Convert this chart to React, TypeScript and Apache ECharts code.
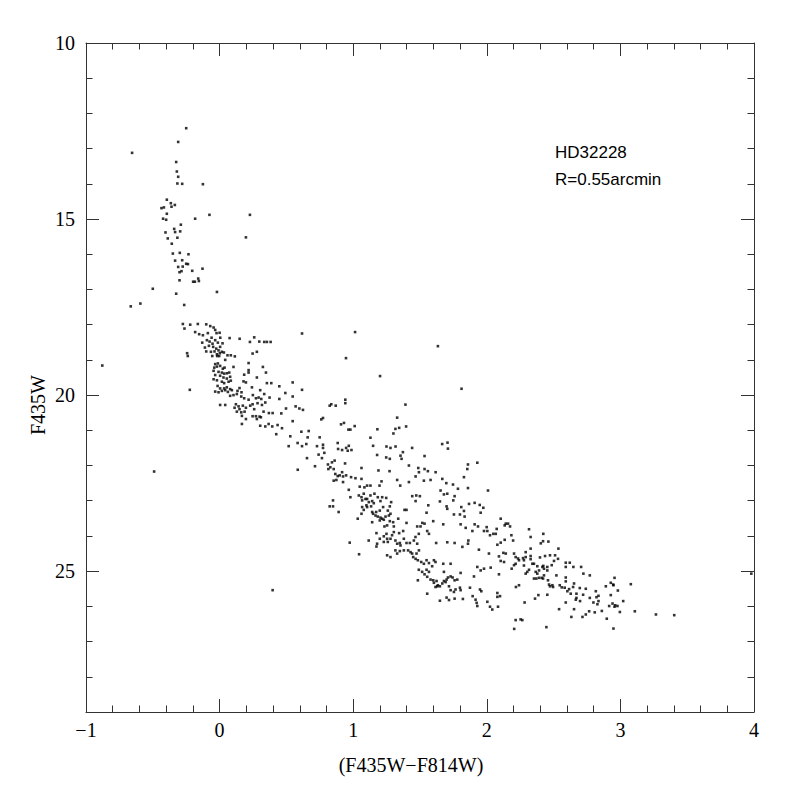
import React, { useEffect, useRef } from "react";
import * as echarts from "echarts";

// Colour index (F435W-F814W) vs magnitude F435W
const brightSequence: [number, number][] = [
  [-0.25, 12.42], [-0.31, 12.81], [-0.655, 13.12], [-0.325, 13.38], [-0.32, 13.65], [-0.31, 13.8], [-0.316, 13.99], [-0.28, 14.0],
  [-0.125, 14.01], [-0.395, 14.45], [-0.365, 14.55], [-0.335, 14.6], [-0.417, 14.67], [-0.435, 14.69], [-0.36, 14.65], [-0.395, 14.85],
  [-0.076, 14.88], [0.227, 14.88], [-0.423, 14.99], [-0.4, 15.02], [-0.183, 14.99], [-0.29, 15.16], [-0.34, 15.28], [-0.295, 15.35],
  [-0.333, 15.37], [-0.405, 15.38], [0.197, 15.52], [-0.316, 15.53], [-0.388, 15.55], [-0.358, 15.7], [-0.35, 15.98], [-0.298, 15.96],
  [-0.233, 16.0], [-0.333, 16.18], [-0.28, 16.17], [-0.25, 16.27], [-0.237, 16.28], [-0.31, 16.36], [-0.276, 16.35], [-0.128, 16.41],
  [-0.3, 16.51], [-0.285, 16.48], [-0.205, 16.47], [-0.16, 16.69], [-0.198, 16.78], [-0.185, 16.78], [-0.155, 16.76], [-0.3, 16.74],
  [-0.5, 16.98], [-0.325, 17.12], [-0.02, 17.07], [-0.593, 17.4], [-0.665, 17.48], [-0.265, 17.44],
];

const turnoffRegion: [number, number][] = [
  [-0.275, 17.98], [-0.22, 18.0], [-0.163, 17.98], [-0.1, 17.99], [-0.263, 18.11], [-0.07, 18.04], [-0.045, 18.08], [-0.033, 18.15],
  [-0.183, 18.21], [-0.153, 18.27], [-0.125, 18.3], [-0.088, 18.24], [-0.023, 18.24], [0.0, 18.23], [-0.06, 18.37], [0.005, 18.37],
  [0.075, 18.38], [0.15, 18.4], [0.259, 18.36], [0.617, 18.25], [0.227, 18.49], [0.297, 18.48], [0.334, 18.49], [0.354, 18.49],
  [0.382, 18.49], [-0.13, 18.51], [-0.095, 18.44], [-0.075, 18.48], [-0.033, 18.44], [-0.053, 18.54], [-0.013, 18.51], [0.022, 18.53],
  [-0.11, 18.65], [-0.08, 18.6], [-0.048, 18.63], [-0.025, 18.68], [-0.008, 18.73], [0.004, 18.63], [0.032, 18.79], [0.059, 18.87],
  [0.084, 18.87], [0.114, 18.9], [-0.1, 18.76], [-0.065, 18.77], [-0.038, 18.76], [-0.02, 18.84], [0.002, 18.81], [0.017, 18.77],
  [-0.055, 18.89], [-0.018, 18.89], [-0.003, 18.89], [-0.243, 18.81], [-0.238, 18.89], [0.247, 18.82], [0.279, 18.77], [-0.878, 19.16],
  [0.042, 19.0], [-0.033, 19.12], [-0.013, 19.1], [-0.04, 19.22], [-0.02, 19.19], [0.004, 19.17], [0.024, 19.25], [0.037, 19.22],
  [0.104, 19.2], [0.217, 19.09], [0.324, 19.2], [0.347, 19.36], [0.217, 19.29], [0.217, 19.36], [-0.045, 19.31], [-0.008, 19.34],
  [0.017, 19.36], [0.034, 19.39], [0.054, 19.38], [0.072, 19.36], [-0.033, 19.43], [0.004, 19.45], [0.029, 19.5], [0.054, 19.53],
  [0.079, 19.48], [0.184, 19.42], [0.279, 19.5], [-0.045, 19.55], [-0.02, 19.58], [0.017, 19.62], [0.034, 19.66], [0.067, 19.62],
  [0.084, 19.59], [0.179, 19.61], [0.197, 19.64], [0.354, 19.66], [0.387, 19.66], [0.547, 19.64], [0.447, 19.75], [-0.015, 19.74],
  [0.004, 19.81], [0.034, 19.81], [0.054, 19.78], [0.079, 19.83], [0.017, 19.88], [0.042, 19.86], [0.062, 19.91], [0.092, 19.86],
  [0.149, 19.8], [0.134, 19.88], [0.164, 19.92], [0.242, 19.78], [0.304, 19.86], [0.334, 19.97], [-0.223, 19.85], [-0.033, 19.9],
  [-0.008, 19.92], [0.104, 20.0], [0.129, 19.97], [0.079, 20.02], [0.162, 20.04], [0.184, 20.09], [0.217, 20.13], [0.249, 20.0],
  [0.272, 20.09], [0.292, 20.07], [0.312, 20.11], [0.374, 20.07], [0.447, 20.11], [0.492, 19.94], [0.547, 20.04], [0.617, 19.85],
  [0.004, 20.28], [0.042, 20.28], [0.122, 20.26], [0.112, 20.36], [0.142, 20.32], [0.149, 20.4], [0.174, 20.3], [0.197, 20.36],
  [0.229, 20.3], [0.259, 20.4], [0.247, 20.26], [0.284, 20.23], [0.317, 20.28], [0.342, 20.21], [0.129, 20.47], [0.162, 20.49],
  [0.187, 20.47], [0.167, 20.59], [0.247, 20.6], [0.272, 20.6], [0.299, 20.61], [0.329, 20.47], [0.369, 20.51], [0.397, 20.51],
  [0.462, 20.52], [0.497, 20.38], [0.569, 20.32], [0.597, 20.38], [0.624, 20.42], [0.197, 20.68], [0.279, 20.68], [0.309, 20.63],
  [0.167, 20.82], [0.304, 20.87], [0.342, 20.89], [0.367, 20.82], [0.394, 20.89], [0.434, 20.85], [0.467, 20.94], [0.547, 20.74],
  [0.424, 21.11], [0.529, 21.17], [0.612, 21.04], [0.667, 21.02], [0.659, 21.2], [0.749, 21.2], [0.517, 21.45], [0.584, 21.36],
  [0.617, 21.45], [0.649, 21.39], [0.729, 21.45],
];

const scatteredRed: [number, number][] = [
  [1.014, 18.21], [1.634, 18.61], [0.946, 18.95], [1.201, 19.46], [1.811, 19.82], [0.941, 20.13], [0.941, 20.23], [0.824, 20.3],
  [0.836, 20.26], [0.869, 20.3], [1.391, 20.27], [1.329, 20.64], [0.761, 20.69], [0.774, 20.65], [0.909, 20.83], [0.931, 20.79],
  [1.011, 20.88], [0.964, 20.98], [0.979, 20.98], [1.181, 20.97], [1.316, 20.96], [1.344, 20.93], [1.396, 20.89], [1.301, 21.09],
  [1.129, 21.21], [0.884, 21.36], [1.706, 21.35],
];

const lowerSequence: [number, number][] = [
  [0.774, 21.41], [0.774, 21.5], [0.887, 21.53], [0.917, 21.56], [0.947, 21.5], [0.959, 21.58], [0.987, 21.56], [0.967, 21.44],
  [1.149, 21.44], [1.249, 21.46], [1.279, 21.5], [1.317, 21.46], [1.441, 21.5], [1.666, 21.39], [1.709, 21.52], [0.654, 21.79],
  [0.741, 21.69], [0.766, 21.79], [0.784, 21.64], [0.714, 22.02], [0.811, 21.97], [0.829, 22.05], [0.841, 21.91], [0.861, 21.86],
  [0.854, 22.1], [0.814, 22.1], [0.866, 22.24], [0.884, 22.3], [0.874, 22.41], [0.854, 22.43], [0.917, 22.19], [0.899, 22.28],
  [0.924, 22.31], [0.947, 22.28], [0.924, 22.47], [0.984, 22.33], [1.017, 22.36], [1.062, 22.38], [1.062, 22.07], [0.939, 21.94],
  [1.179, 21.7], [1.274, 21.81], [1.247, 21.77], [1.354, 21.72], [1.362, 21.81], [1.372, 21.62], [1.417, 22.0], [1.534, 21.73],
  [1.487, 22.07], [1.492, 22.19], [1.534, 22.1], [1.559, 22.16], [1.617, 22.19], [1.467, 22.31], [1.529, 22.43], [1.579, 22.41],
  [1.667, 22.38], [1.697, 22.5], [1.747, 22.54], [1.829, 22.33], [1.854, 22.1], [1.859, 21.97], [1.929, 21.92], [1.189, 22.14],
  [1.272, 22.16], [1.212, 22.45], [1.197, 22.57], [1.329, 22.41], [1.352, 22.57], [1.417, 22.47], [1.104, 22.57], [1.129, 22.57],
  [1.084, 22.62], [1.049, 22.6], [0.967, 22.69], [0.979, 22.9], [1.129, 22.85], [1.159, 22.8], [1.079, 22.8], [1.062, 22.9],
  [1.042, 22.85], [1.092, 22.95], [1.067, 22.99], [1.104, 22.95], [1.117, 23.04], [1.142, 23.01], [1.154, 23.07], [1.134, 23.16],
  [1.099, 23.13], [1.067, 23.18], [1.079, 23.26], [1.104, 23.18], [1.142, 23.32], [1.149, 23.37], [1.167, 23.42], [1.184, 23.45],
  [1.204, 23.48], [1.217, 23.51], [1.199, 23.56], [1.229, 23.54], [1.242, 23.45], [1.267, 23.42], [1.279, 23.37], [1.259, 23.28],
  [1.274, 23.16], [1.284, 23.04], [1.217, 22.9], [1.247, 22.92], [1.184, 22.9], [1.204, 23.01], [1.224, 23.18], [1.199, 23.28],
  [1.172, 23.32], [1.142, 23.61], [0.849, 22.99], [0.824, 23.16], [0.849, 23.16], [0.891, 23.32], [1.062, 23.37], [1.034, 23.51],
  [1.234, 23.73], [1.254, 23.7], [1.274, 23.58], [1.299, 23.61], [1.304, 23.73], [1.337, 23.51], [1.399, 23.26], [1.384, 23.26],
  [1.399, 23.63], [1.442, 22.87], [1.472, 22.85], [1.499, 22.87], [1.467, 23.01], [1.562, 23.13], [1.549, 23.34], [1.654, 22.71],
  [1.679, 22.82], [1.704, 22.8], [1.649, 23.02], [1.699, 23.16], [1.704, 23.23], [1.749, 22.99], [1.759, 22.87], [1.784, 22.66],
  [1.859, 22.64], [2.009, 22.71], [1.809, 23.18], [1.799, 23.39], [1.829, 23.29], [1.834, 23.45], [1.867, 23.09], [1.909, 23.06],
  [1.947, 23.12], [1.954, 23.34], [1.974, 23.2], [1.754, 23.39], [1.599, 23.58], [1.674, 23.67], [1.479, 23.73], [1.504, 23.73],
  [1.517, 23.63], [1.534, 23.65], [1.554, 23.86], [1.567, 23.94], [1.804, 23.67], [1.842, 23.77], [1.892, 23.86], [1.909, 23.67],
  [1.934, 23.73], [1.979, 23.86], [1.999, 23.75], [2.004, 23.86], [2.024, 23.98], [2.049, 23.94], [2.074, 23.8], [2.067, 23.94],
  [2.104, 23.51], [2.134, 23.7], [2.142, 23.65], [2.159, 23.65], [2.174, 23.73], [2.184, 23.98], [2.197, 24.13], [2.104, 24.19],
  [2.079, 24.25], [2.134, 24.11], [1.862, 24.13], [1.859, 24.22], [1.817, 24.31], [1.759, 24.2], [1.704, 24.18], [1.621, 24.2],
  [1.941, 24.39], [2.016, 24.5], [2.124, 24.48], [2.142, 24.5], [2.204, 24.5], [2.216, 24.6], [2.234, 24.64], [2.241, 24.69],
  [2.216, 24.79], [2.204, 24.83], [2.186, 24.93], [2.091, 24.58], [2.104, 24.71], [2.129, 24.74], [2.029, 24.9], [1.979, 24.93],
  [1.954, 24.98], [1.929, 24.88], [2.091, 25.09], [1.904, 25.15], [2.218, 25.45], [2.241, 25.4], [1.174, 23.92], [1.199, 24.08],
  [1.229, 24.17], [1.259, 24.17], [1.279, 24.08], [1.316, 24.13], [1.329, 24.22], [1.349, 24.2], [1.354, 24.27], [1.379, 24.08],
  [1.399, 24.2], [1.424, 24.2], [1.454, 24.13], [1.491, 23.94], [1.466, 24.03], [1.479, 24.22], [1.374, 23.86], [1.344, 23.92],
  [1.304, 23.89], [1.291, 23.98], [1.249, 23.94], [1.229, 24.01], [1.254, 24.08], [1.116, 24.13], [0.974, 24.19], [1.179, 24.22],
  [1.174, 24.3], [1.044, 24.52], [1.316, 24.41], [1.329, 24.5], [1.349, 24.43], [1.379, 24.41], [1.411, 24.41], [1.429, 24.46],
  [1.441, 24.5], [1.474, 24.5], [1.492, 24.41], [1.449, 24.6], [1.467, 24.65], [1.484, 24.69], [1.254, 24.55], [1.279, 24.6],
  [1.509, 24.74], [1.529, 24.79], [1.549, 24.69], [1.567, 24.77], [1.549, 24.96], [1.567, 25.02], [1.591, 24.86], [1.604, 24.69],
  [1.616, 24.74], [1.674, 24.79], [1.729, 24.79], [1.491, 24.96], [1.516, 25.02], [1.534, 25.09], [1.554, 25.16], [1.579, 25.24],
  [1.599, 25.26], [1.604, 25.33], [1.624, 25.28], [1.634, 25.4], [1.649, 25.43], [1.667, 25.35], [1.679, 25.28], [1.692, 25.31],
  [1.699, 25.24], [1.709, 25.18], [1.729, 25.15], [1.744, 25.18], [1.759, 25.26], [1.779, 25.24], [1.804, 25.05], [1.679, 25.02],
  [1.484, 25.26], [1.616, 25.45], [1.629, 25.43], [1.717, 25.43], [1.729, 25.54], [1.754, 25.59], [1.766, 25.52], [1.799, 25.47],
  [1.804, 25.54], [1.821, 25.79], [1.874, 25.47], [1.894, 25.71], [1.949, 25.52], [1.959, 25.57], [1.916, 25.81], [1.924, 25.9],
  [1.929, 25.99], [2.004, 25.87], [2.024, 26.01], [2.041, 26.09], [2.084, 26.01], [2.079, 25.62], [2.079, 25.73], [2.099, 25.71],
  [1.554, 25.64], [1.649, 25.84], [1.717, 25.82], [1.759, 25.78], [1.699, 25.75],
];

const faintRedTail: [number, number][] = [
  [2.316, 23.81], [2.328, 24.03], [2.423, 23.94], [2.404, 24.21], [2.421, 24.15], [2.461, 24.16], [2.328, 24.36], [2.291, 24.46],
  [2.536, 24.36], [2.328, 24.57], [2.328, 24.66], [2.436, 24.57], [2.473, 24.55], [2.511, 24.55], [2.533, 24.65], [2.503, 24.71],
  [2.398, 24.61], [2.271, 24.63], [2.291, 24.6], [2.341, 24.79], [2.353, 24.79], [2.278, 24.69], [2.278, 24.84], [2.316, 24.96],
  [2.291, 25.07], [2.303, 25.02], [2.378, 24.86], [2.416, 24.88], [2.423, 24.85], [2.428, 24.93], [2.453, 24.88], [2.453, 24.98],
  [2.391, 24.98], [2.486, 24.83], [2.591, 24.76], [2.621, 24.76], [2.591, 24.88], [2.648, 24.88], [2.706, 24.88], [2.366, 25.02],
  [2.378, 25.07], [2.371, 25.21], [2.391, 25.19], [2.411, 25.19], [2.428, 25.12], [2.421, 25.21], [2.458, 25.26], [2.521, 25.12],
  [2.353, 25.21], [2.466, 25.38], [2.491, 25.4], [2.473, 25.43], [2.496, 25.45], [2.546, 25.4], [2.561, 25.46], [2.591, 25.18],
  [2.591, 25.29], [2.723, 25.07], [2.771, 25.12], [2.653, 25.35], [2.646, 25.45], [2.583, 25.47], [2.616, 25.51], [2.603, 25.57],
  [2.628, 25.64], [2.671, 25.64], [2.696, 25.48], [2.741, 25.5], [2.721, 25.67], [2.671, 25.76], [2.666, 25.81], [2.698, 25.85],
  [2.453, 25.67], [2.386, 25.68], [2.361, 25.78], [2.283, 25.89], [2.591, 25.89], [2.816, 25.57], [2.836, 25.7], [2.821, 25.74],
  [2.771, 25.76], [2.836, 25.85], [2.798, 25.89], [2.828, 25.94], [2.891, 25.43], [2.928, 25.33], [2.946, 25.38], [2.956, 25.19],
  [2.948, 25.4], [2.981, 25.55], [2.928, 25.68], [3.078, 25.37], [3.021, 25.85], [2.941, 25.92], [2.961, 25.97], [2.978, 25.99],
  [2.916, 25.99], [2.956, 26.01], [2.996, 26.16], [3.108, 26.14], [3.266, 26.23], [3.403, 26.25], [2.541, 26.08], [2.653, 26.08],
  [2.766, 26.14], [2.808, 26.17], [2.861, 26.13], [2.741, 26.23], [2.716, 26.3], [2.633, 26.3], [2.898, 26.35], [2.216, 26.39],
  [2.253, 26.37], [2.266, 26.39], [2.446, 26.59], [2.948, 26.63], [2.205, 26.64],
];

const isolatedStars: [number, number][] = [
  [-0.49, 22.17], [0.397, 25.54], [0.585, 22.12], [3.98, 25.07],
];

const xTickMin = -1;
const xTickMax = 4;
const yTickMin = 10;
const yTickMax = 29;
const titleLines = ["HD32228", "R=0.55arcmin"];
const xAxisTitle = "(F435W\u2212F814W)";
const yAxisTitle = "F435W";

const AXIS_COLOR = "#333";
const SERIF = "'Liberation Serif', 'DejaVu Serif', serif";
const SANS = "'Liberation Sans', Arial, sans-serif";

export default function App() {
  const ref = useRef<HTMLDivElement>(null);

  useEffect(() => {
    document.body.style.margin = "0";
    if (!ref.current) return;
    const chart = echarts.init(ref.current, null, { renderer: "svg" });

    const allStars = [
      ...brightSequence,
      ...turnoffRegion,
      ...scatteredRed,
      ...lowerSequence,
      ...faintRedTail,
      ...isolatedStars,
    ];

    const fmtNum = (v: number) => (v < 0 ? "\u2212" + Math.abs(v) : String(v));

    const baseX = (position: "bottom" | "top", showLabel: boolean) => ({
      type: "value" as const,
      position,
      min: xTickMin,
      max: xTickMax,
      interval: 1,
      axisLine: { show: true, onZero: false, lineStyle: { color: AXIS_COLOR, width: 1 } },
      axisTick: { show: true, inside: true, length: 13, lineStyle: { color: AXIS_COLOR, width: 1 } },
      minorTick: { show: true, splitNumber: 5, length: 6.5, lineStyle: { color: AXIS_COLOR, width: 1 } },
      splitLine: { show: false },
      minorSplitLine: { show: false },
      axisLabel: {
        show: showLabel,
        margin: 8,
        fontFamily: SERIF,
        fontSize: 20,
        color: "#000",
        formatter: (v: number) => fmtNum(v),
      },
    });

    const baseY = (position: "left" | "right", interval: number, tickLen: number, showLabel: boolean, showLine: boolean) => ({
      type: "value" as const,
      position,
      inverse: true,
      min: yTickMin,
      max: yTickMax,
      interval,
      axisLine: { show: showLine, onZero: false, lineStyle: { color: AXIS_COLOR, width: 1 } },
      axisTick: { show: true, inside: true, length: tickLen, lineStyle: { color: AXIS_COLOR, width: 1 } },
      splitLine: { show: false },
      axisLabel: {
        show: showLabel,
        margin: 11,
        fontFamily: SERIF,
        fontSize: 20,
        color: "#000",
        formatter: (v: number) => (v % 5 === 0 && v < yTickMax ? String(v) : ""),
      },
    });

    chart.setOption({
      animation: false,
      backgroundColor: "#fff",
      grid: { left: 86, top: 43, width: 668, height: 669, containLabel: false },
      xAxis: [baseX("bottom", true), baseX("top", false)],
      yAxis: [
        baseY("left", 5, 13, true, true),
        baseY("left", 1, 6.5, false, false),
        baseY("right", 5, 13, false, true),
        baseY("right", 1, 6.5, false, false),
      ],
      series: [
        {
          type: "scatter",
          xAxisIndex: 0,
          yAxisIndex: 0,
          symbol: "rect",
          symbolSize: 2.6,
          itemStyle: { color: "#000" },
          data: allStars,
          silent: true,
        },
      ],
      graphic: [
        {
          type: "text",
          left: 555,
          top: 144,
          style: { text: titleLines[0], fontFamily: SANS, fontSize: 17, fill: "#000" },
        },
        {
          type: "text",
          left: 555,
          top: 171,
          style: { text: titleLines[1], fontFamily: SANS, fontSize: 17, fill: "#000" },
        },
        {
          type: "text",
          x: 411,
          y: 765,
          style: {
            text: xAxisTitle,
            fontFamily: SERIF,
            fontSize: 20,
            fill: "#000",
            textAlign: "center",
            textVerticalAlign: "middle",
            align: "center",
            verticalAlign: "middle",
          },
        },
        {
          type: "text",
          x: 38,
          y: 405,
          rotation: Math.PI / 2,
          style: {
            text: yAxisTitle,
            fontFamily: SERIF,
            fontSize: 20,
            fill: "#000",
            textAlign: "center",
            textVerticalAlign: "middle",
            align: "center",
            verticalAlign: "middle",
          },
        },
      ],
    });

    return () => chart.dispose();
  }, []);

  return <div ref={ref} style={{ width: 797, height: 797 }} />;
}
